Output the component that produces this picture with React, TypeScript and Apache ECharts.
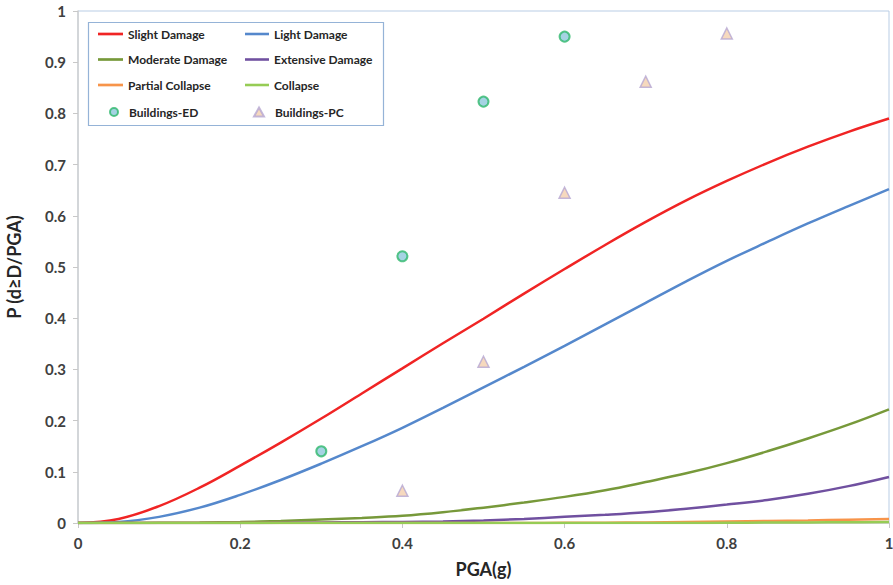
import React, { useEffect, useRef } from "react";
import * as echarts from "echarts";

const pga = [0, 0.05, 0.1, 0.15, 0.2, 0.25, 0.3, 0.35, 0.4, 0.45, 0.5, 0.55, 0.6, 0.65, 0.7, 0.75, 0.8, 0.85, 0.9, 0.95, 1.0];
const slightDamage = [0, 0.008, 0.033, 0.069, 0.112, 0.157, 0.204, 0.253, 0.302, 0.351, 0.399, 0.448, 0.496, 0.543, 0.588, 0.63, 0.668, 0.703, 0.735, 0.764, 0.79];
const lightDamage = [0, 0.002, 0.012, 0.03, 0.055, 0.084, 0.116, 0.15, 0.186, 0.225, 0.265, 0.305, 0.346, 0.388, 0.43, 0.472, 0.512, 0.549, 0.585, 0.619, 0.652];
const moderateDamage = [0, 0, 0.0005, 0.001, 0.002, 0.004, 0.007, 0.01, 0.014, 0.021, 0.03, 0.04, 0.051, 0.064, 0.08, 0.097, 0.117, 0.14, 0.165, 0.192, 0.222];
const extensiveDamage = [0, 0, 0, 0, 0, 0.0005, 0.001, 0.0015, 0.002, 0.003, 0.005, 0.008, 0.012, 0.016, 0.021, 0.028, 0.036, 0.045, 0.057, 0.072, 0.09];
const partialCollapse = [0, 0, 0, 0, 0, 0, 0, 0, 0, 0, 0, 0, 0.0005, 0.0007, 0.001, 0.002, 0.003, 0.004, 0.005, 0.0065, 0.008];
const collapse = [0, 0, 0, 0, 0, 0, 0, 0, 0, 0, 0, 0, 0, 0, 0, 0, 0.0005, 0.0008, 0.001, 0.0015, 0.002];

const edPGA = [0.3, 0.4, 0.5, 0.6];
const edProb = [0.14, 0.521, 0.823, 0.95];
const pcPGA = [0.4, 0.5, 0.6, 0.7, 0.8];
const pcProb = [0.063, 0.315, 0.645, 0.862, 0.956];

const xTicks = ["0", "0.2", "0.4", "0.6", "0.8", "1"];

const FONT = "Lato";
const LINE_ICON = "path://M0,0 H28 V3 H0 Z";
const TRI_ICON = "path://M0,0 M24,14 M13,2.5 L18,11.5 L8,11.5 Z";
const CIRCLE_ICON = "path://M0,0 M25,14 M19,7 A4,4 0 1 1 11,7 A4,4 0 1 1 19,7 Z";

function pairs(xs: number[], ys: number[]) {
  return xs.map((x, i) => [x, ys[i]]);
}

export default function App() {
  const ref = useRef<HTMLDivElement>(null);
  useEffect(() => {
    if (!ref.current) return;
    const chart = echarts.init(ref.current, null, { renderer: "svg" });
    const lineSeries = (name: string, data: number[], color: string) => ({
      name,
      type: "line",
      data: pairs(pga, data),
      smooth: 0.4,
      symbol: "none",
      lineStyle: { color, width: 2.5 },
      itemStyle: { color },
      z: 3,
    });
    const legendText = { fontFamily: FONT, fontWeight: "bold", fontSize: 12, color: "#262626" };
    const legendBase = {
      z: 10,
      orient: "vertical",
      padding: 0,
      itemHeight: 14,
      itemGap: 13.5,
      textStyle: legendText,
    };
    chart.setOption({
      animation: false,
      backgroundColor: "#ffffff",
      grid: {
        left: 78,
        right: 4,
        top: 11,
        bottom: 62,
        outerBoundsMode: "none",
        containLabel: false,
        show: true,
        borderColor: "#b9cde5",
        borderWidth: 1,
      },
      graphic: [
        {
          type: "rect",
          z: 1,
          shape: { x: 88.5, y: 22.5, width: 295, height: 103 },
          style: { fill: "#ffffff", stroke: "#95b3d7", lineWidth: 1.2 },
        },
      ],
      legend: [
        {
          ...legendBase,
          left: 98,
          top: 28,
          itemWidth: 25,
          data: [
            { name: "Slight Damage", icon: LINE_ICON },
            { name: "Moderate Damage", icon: LINE_ICON },
            { name: "Partial Collapse", icon: LINE_ICON },
          ],
        },
        {
          ...legendBase,
          left: 245,
          top: 28,
          itemWidth: 24,
          data: [
            { name: "Light Damage", icon: LINE_ICON },
            { name: "Extensive Damage", icon: LINE_ICON },
            { name: "Collapse", icon: LINE_ICON },
          ],
        },
        {
          ...legendBase,
          left: 98,
          top: 104,
          itemWidth: 25,
          data: [{ name: "Buildings-ED", icon: CIRCLE_ICON }],
        },
        {
          ...legendBase,
          left: 245,
          top: 104,
          itemWidth: 24,
          data: [{ name: "Buildings-PC", icon: TRI_ICON }],
        },
      ],
      xAxis: {
        type: "value",
        min: 0,
        max: 1,
        interval: 0.2,
        name: "PGA(g)",
        nameLocation: "middle",
        nameGap: 37,
        nameTextStyle: { fontFamily: FONT, fontWeight: "bold", fontSize: 18, color: "#262626" },
        axisLine: { show: true, lineStyle: { color: "#d0d0d0", width: 1.5 } },
        axisTick: { show: true, length: 5, lineStyle: { color: "#c8c8c8" } },
        axisLabel: {
          margin: 12,
          fontFamily: FONT,
          fontWeight: "bold",
          fontSize: 15,
          color: "#404040",
          formatter: (v: number) => xTicks[Math.round(v / 0.2)] ?? String(v),
        },
        splitLine: { show: false },
      },
      yAxis: {
        type: "value",
        min: 0,
        max: 1,
        interval: 0.1,
        name: "P (d≥D/PGA)",
        nameLocation: "middle",
        nameGap: 55,
        nameTextStyle: { fontFamily: FONT, fontWeight: "bold", fontSize: 18, color: "#262626" },
        axisLine: { show: true, lineStyle: { color: "#d0d0d0", width: 1.5 } },
        axisTick: { show: true, length: 5, lineStyle: { color: "#c8c8c8" } },
        axisLabel: {
          margin: 12,
          fontFamily: FONT,
          fontWeight: "bold",
          fontSize: 15,
          color: "#404040",
          formatter: (v: number) => String(Math.round(v * 10) / 10),
        },
        splitLine: { show: false },
      },
      series: [
        lineSeries("Slight Damage", slightDamage, "#f02424"),
        lineSeries("Light Damage", lightDamage, "#5588cc"),
        lineSeries("Moderate Damage", moderateDamage, "#77993a"),
        lineSeries("Extensive Damage", extensiveDamage, "#7050a0"),
        lineSeries("Partial Collapse", partialCollapse, "#f7944a"),
        lineSeries("Collapse", collapse, "#96cc55"),
        {
          name: "Buildings-ED",
          type: "scatter",
          data: pairs(edPGA, edProb),
          symbol: "circle",
          symbolSize: 10,
          itemStyle: { color: "#8ec8dc", borderColor: "#2eb86c", borderWidth: 2 },
          z: 5,
        },
        {
          name: "Buildings-PC",
          type: "scatter",
          data: pairs(pcPGA, pcProb),
          symbol: "triangle",
          symbolSize: 11,
          itemStyle: { color: "#f4cfae", borderColor: "#b5a6d2", borderWidth: 1.5 },
          z: 5,
        },
      ],
    });
    return () => chart.dispose();
  }, []);
  return <div ref={ref} style={{ width: 893, height: 585, position: "absolute", left: 0, top: 0 }} />;
}
